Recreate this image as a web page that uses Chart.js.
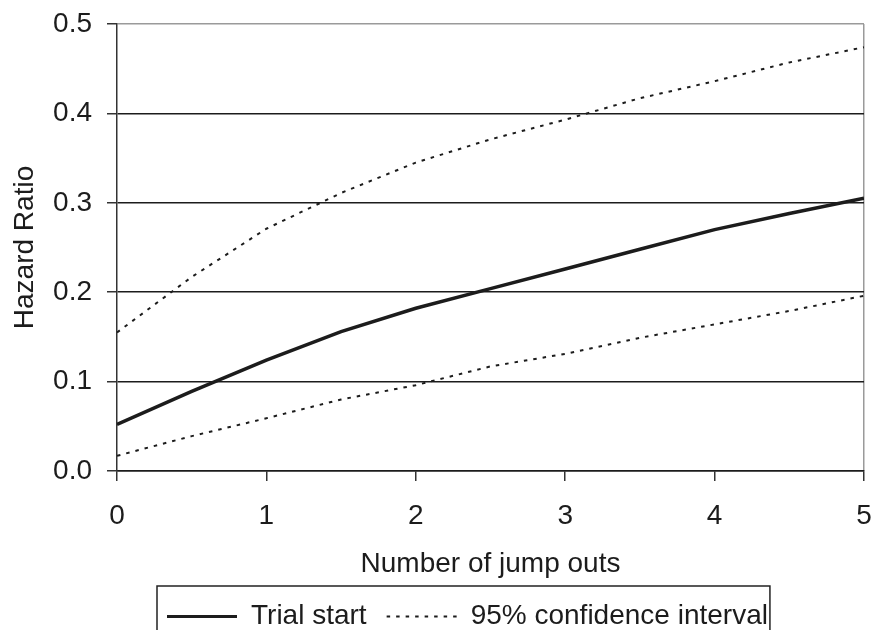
<!DOCTYPE html>
<html>
<head>
<meta charset="utf-8">
<script src="https://cdn.jsdelivr.net/npm/chart.js@4/dist/chart.umd.min.js"></script>
<style>
  html, body { margin: 0; padding: 0; background: #ffffff; }
  #wrap { width: 874px; height: 630px; }
</style>
</head>
<body>
<div id="wrap"><canvas id="c" width="874" height="630"></canvas></div>
<script>
// ---- data ----
const jumpOuts   = [0, 0.5, 1, 1.5, 2, 2.5, 3, 3.5, 4, 4.5, 5];
const trialStart = [0.052, 0.089, 0.124, 0.156, 0.182, 0.204, 0.226, 0.248, 0.270, 0.288, 0.305];
const ciUpper    = [0.155, 0.217, 0.271, 0.311, 0.345, 0.371, 0.393, 0.417, 0.436, 0.457, 0.474];
const ciLower    = [0.017, 0.039, 0.059, 0.080, 0.096, 0.117, 0.131, 0.149, 0.164, 0.179, 0.196];
const yTicks     = [0, 0.1, 0.2, 0.3, 0.4, 0.5];
const xTicks     = [0, 1, 2, 3, 4, 5];
const seriesLabels = ['Trial start', '95% confidence interval'];
const xTitle = 'Number of jump outs';
const yTitle = 'Hazard Ratio';

const pts = arr => jumpOuts.map((x, i) => ({ x: x, y: arr[i] }));
const FONT = "'Liberation Sans', Arial, Helvetica, sans-serif";
const INK = '#1c1c1c';
const FS = 28;

const legendFrame = {
  id: 'legendFrame',
  afterLayout(chart) {
    const lg = chart.legend;
    if (!lg || !lg.lineWidths) return;
    const p = lg.options.labels.padding;
    const lw = lg.lineWidths[0];
    const start = (lg.left + p + lg.right - lw) / 2;
    const dx = 167 - start;
    lg.left += dx; lg.right += dx;
  },
  afterDraw(chart) {
    const lg = chart.legend;
    if (!lg || !lg.lineWidths) return;
    const p = lg.options.labels.padding;
    const lw = lg.lineWidths[0];
    const start = (lg.left + p + lg.right - lw) / 2;
    const end = start + lw - p;
    const ctx = chart.ctx;
    ctx.save();
    ctx.strokeStyle = '#222';
    ctx.lineWidth = 1.5;
    ctx.setLineDash([]);
    ctx.strokeRect(start - 10, 586, (end - start) + 12, 50);
    ctx.restore();
  }
};

new Chart(document.getElementById('c'), {
  type: 'line',
  data: {
    datasets: [
      {
        label: seriesLabels[0],
        data: pts(trialStart),
        borderColor: INK,
        borderWidth: 3.5,
        pointRadius: 0,
        tension: 0,
        fill: false
      },
      {
        label: seriesLabels[1],
        data: pts(ciUpper),
        borderColor: INK,
        borderWidth: 2,
        borderDash: [3.5, 6],
        pointRadius: 0,
        tension: 0,
        fill: false
      },
      {
        label: seriesLabels[1] + ' (lower)',
        data: pts(ciLower),
        borderColor: INK,
        borderWidth: 2,
        borderDash: [3.5, 6],
        pointRadius: 0,
        tension: 0,
        fill: false
      }
    ]
  },
  options: {
    responsive: false,
    devicePixelRatio: 1,
    animation: false,
    layout: { padding: { top: 24, right: 10, left: 0, bottom: -10.5 } },
    plugins: {
      tooltip: { enabled: false },
      legend: {
        display: true,
        position: 'bottom',
        align: 'center',
        labels: {
          usePointStyle: true,
          pointStyle: 'line',
          pointStyleWidth: 70,
          boxWidth: 70,
          padding: 20,
          color: INK,
          font: { family: FONT, size: FS },
          filter: item => item.datasetIndex !== 2,
          generateLabels: chart => {
            const items = Chart.defaults.plugins.legend.labels.generateLabels(chart);
            items.forEach(it => {
              const ds = chart.data.datasets[it.datasetIndex];
              it.lineDash = ds.borderDash || [];
              it.lineWidth = it.datasetIndex === 0 ? 3 : 1.8;
              it.strokeStyle = ds.borderColor;
              it.fillStyle = ds.borderColor;
            });
            return items;
          }
        }
      }
    },
    scales: {
      x: {
        type: 'linear',
        min: 0,
        max: 5,
        afterBuildTicks: s => { s.ticks = xTicks.map(v => ({ value: v })); },
        afterFit: s => { s.height = 111.5; s.paddingLeft = 0; s.paddingRight = 0; },
        ticks: {
          color: INK,
          padding: 18,
          maxRotation: 0,
          font: { family: FONT, size: FS },
          callback: v => String(v)
        },
        grid: {
          display: true,
          drawOnChartArea: true,
          tickLength: 10,
          lineWidth: 1.5,
          tickColor: '#333',
          color: c => (c.tick && c.tick.value === 5) ? '#9a9a9a' : 'rgba(0,0,0,0)'
        },
        border: { display: true, color: INK, width: 1.5 },
        title: {
          display: true,
          text: xTitle,
          color: INK,
          font: { family: FONT, size: FS },
          padding: { top: 13, bottom: 1 }
        }
      },
      y: {
        type: 'linear',
        min: 0,
        max: 0.5,
        afterBuildTicks: s => { s.ticks = yTicks.map(v => ({ value: v })); },
        afterFit: s => { s.width = 117; s.paddingTop = 0; s.paddingBottom = 0; },
        ticks: {
          color: INK,
          padding: 15,
          font: { family: FONT, size: FS },
          callback: v => Number(v).toFixed(1)
        },
        grid: {
          display: true,
          drawOnChartArea: true,
          tickLength: 10,
          lineWidth: 1.5,
          tickColor: '#333',
          color: c => (c.tick && Math.abs(c.tick.value - 0.5) < 1e-9) ? '#9a9a9a' : INK
        },
        border: { display: true, color: '#333', width: 1.5 },
        title: {
          display: true,
          text: yTitle,
          color: INK,
          font: { family: FONT, size: FS },
          padding: { top: 8, bottom: 0 }
        }
      }
    }
  },
  plugins: [legendFrame]
});
</script>
</body>
</html>
